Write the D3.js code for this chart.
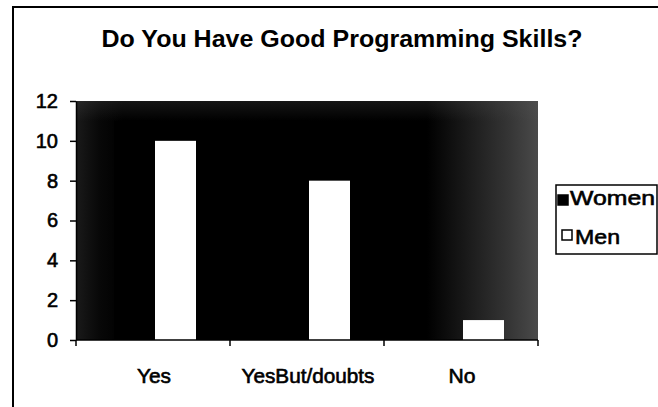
<!DOCTYPE html>
<html>
<head>
<meta charset="utf-8">
<script src="https://cdn.jsdelivr.net/npm/d3@7"></script>
<style>
  html, body { margin: 0; padding: 0; background: #fff; }
  svg { display: block; }
  text { font-family: "Liberation Sans", Arial, sans-serif; fill: #000; }
  .thick { stroke: #000; stroke-width: 0.6px; }
</style>
</head>
<body>
<svg id="chart" width="658" height="407"></svg>
<script>
// ---- data ----
const categories = ["Yes", "YesBut/doubts", "No"];
const series = ["Women", "Men"];
const women = [11, 11, 0];
const men = [10, 8, 1];
const yTicks = [0, 2, 4, 6, 8, 10, 12];
const titleText = "Do You Have Good Programming Skills?";

// ---- layout ----
const W = 658, H = 407;
const plot = { left: 76, right: 538, top: 101, bottom: 340 };

const svg = d3.select("#chart");

// chart frame (left + top edges visible)
svg.append("path")
  .attr("d", `M13,${H} L13,7 L${W},7`)
  .attr("fill", "none").attr("stroke", "#000").attr("stroke-width", 2);

// title
svg.append("text")
  .attr("x", 342).attr("y", 47)
  .attr("text-anchor", "middle")
  .attr("font-size", 24).attr("font-weight", "bold")
  .attr("textLength", 481).attr("lengthAdjust", "spacingAndGlyphs")
  .text(titleText);

// scales
const x0 = d3.scaleBand().domain(categories).range([plot.left, plot.right]).paddingInner(0).paddingOuter(0);
const x1 = d3.scaleBand().domain(series).range([0, x0.bandwidth()]).paddingInner(0).paddingOuter(0.878);
const y = d3.scaleLinear().domain([0, 12]).range([plot.bottom, plot.top]);

// plot background gradient
const defs = svg.append("defs");
const g1 = defs.append("linearGradient").attr("id", "bgH")
  .attr("gradientUnits", "userSpaceOnUse")
  .attr("x1", plot.left).attr("x2", plot.right).attr("y1", 0).attr("y2", 0);
[[0, "#1a1a1a"], [0.05, "#080808"], [0.1, "#000"], [0.76, "#000"], [0.86, "#1e1e1e"], [0.94, "#363636"], [1, "#4a4a4a"]]
  .forEach(([o, c]) => g1.append("stop").attr("offset", o).attr("stop-color", c));
const g2 = defs.append("linearGradient").attr("id", "bgV")
  .attr("gradientUnits", "userSpaceOnUse")
  .attr("x1", 0).attr("x2", 0).attr("y1", plot.top).attr("y2", plot.top + 20);
g2.append("stop").attr("offset", 0).attr("stop-color", "#555").attr("stop-opacity", 0.25);
g2.append("stop").attr("offset", 1).attr("stop-color", "#555").attr("stop-opacity", 0);

svg.append("rect")
  .attr("x", plot.left).attr("y", plot.top)
  .attr("width", plot.right - plot.left).attr("height", plot.bottom - plot.top)
  .attr("fill", "url(#bgH)");
svg.append("rect")
  .attr("x", plot.left).attr("y", plot.top)
  .attr("width", plot.right - plot.left).attr("height", 20)
  .attr("fill", "url(#bgV)");

// bars
const rows = categories.map((c, i) => ({ cat: c, values: [
  { key: "Women", v: women[i] }, { key: "Men", v: men[i] } ] }));
const colors = { Women: "#000", Men: "#fff" };

const groups = svg.append("g").attr("transform", "translate(2,0)")
  .selectAll("g").data(rows).join("g")
  .attr("transform", d => `translate(${x0(d.cat)},0)`);
groups.selectAll("rect").data(d => d.values).join("rect")
  .attr("x", d => x1(d.key))
  .attr("y", d => y(d.v))
  .attr("width", x1.bandwidth())
  .attr("height", d => y(0) - y(d.v))
  .attr("fill", d => colors[d.key]);

// y axis
const yAxis = svg.append("g").attr("transform", `translate(${plot.left},0)`)
  .call(d3.axisLeft(y).tickValues(yTicks).tickSize(6).tickSizeOuter(0).tickPadding(12));
yAxis.select(".domain").attr("stroke", "#000").attr("stroke-width", 1.5);
yAxis.selectAll(".tick line").attr("stroke", "#000").attr("stroke-width", 1.5);
yAxis.selectAll(".tick text").attr("font-size", 20).attr("class", "thick")
  .attr("font-family", "Liberation Sans, Arial, sans-serif").attr("fill", "#000");

// x axis (ticks at category boundaries)
const xAxisG = svg.append("g").attr("transform", `translate(0,${plot.bottom})`);
xAxisG.append("line").attr("x1", plot.left).attr("x2", plot.right)
  .attr("stroke", "#000").attr("stroke-width", 1.5);
const bounds = categories.map(c => x0(c)).concat([plot.right]);
xAxisG.selectAll("line.tk").data(bounds).join("line").attr("class", "tk")
  .attr("x1", d => d).attr("x2", d => d).attr("y1", 0).attr("y2", 6)
  .attr("stroke", "#000").attr("stroke-width", 1.5);
const catLen = [34, 133, 27];
xAxisG.selectAll("text").data(categories).join("text")
  .attr("class", "thick")
  .attr("x", d => x0(d) + x0.bandwidth() / 2 + 1)
  .attr("y", 43)
  .attr("text-anchor", "middle")
  .attr("font-size", 20)
  .attr("textLength", (d, i) => catLen[i]).attr("lengthAdjust", "spacingAndGlyphs")
  .text(d => d);

// legend
const lg = svg.append("g");
lg.append("rect").attr("x", 556).attr("y", 185).attr("width", 101).attr("height", 69)
  .attr("fill", "#fff").attr("stroke", "#000").attr("stroke-width", 1.5);
const legendItems = [
  { key: "Women", mx: 558, my: 195, tx: 570, ty: 205, tl: 85 },
  { key: "Men", mx: 562, my: 230, tx: 575, ty: 244, tl: 45 }
];
lg.selectAll("rect.m").data(legendItems).join("rect").attr("class", "m")
  .attr("x", d => d.mx).attr("y", d => d.my).attr("width", 10).attr("height", 10)
  .attr("fill", d => colors[d.key]).attr("stroke", "#000").attr("stroke-width", 1.5);
lg.selectAll("text").data(legendItems).join("text")
  .attr("class", "thick")
  .attr("x", d => d.tx).attr("y", d => d.ty)
  .attr("font-size", 21)
  .attr("textLength", d => d.tl).attr("lengthAdjust", "spacingAndGlyphs")
  .text(d => d.key);
</script>
</body>
</html>
